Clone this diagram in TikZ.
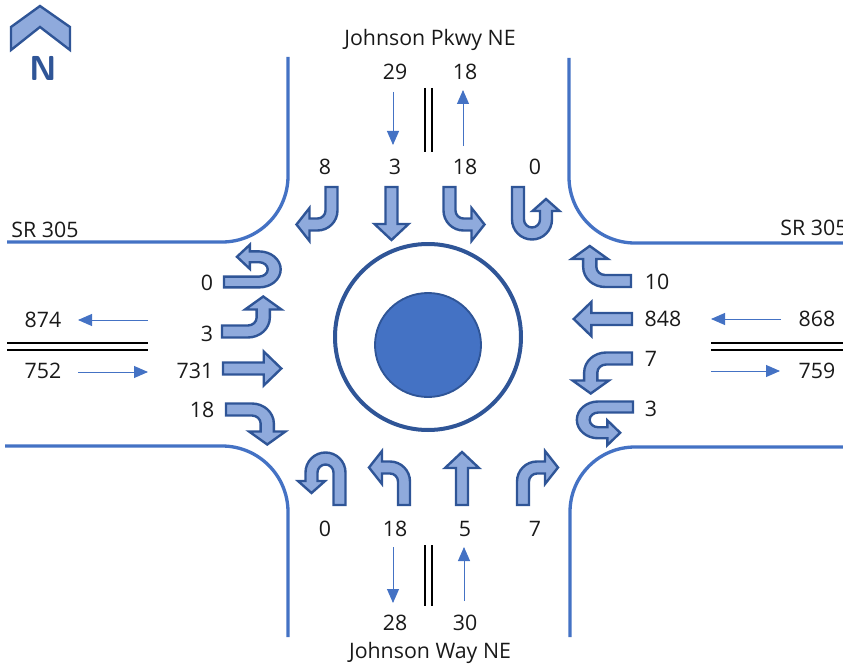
\documentclass[tikz,border=0pt]{standalone}
\usepackage{fontspec}
\setmainfont{Open Sans}
\usepackage{tikz}
\usetikzlibrary{arrows.meta}
\usepackage{xcolor}
\definecolor{roadblue}{HTML}{4472C4}
\definecolor{darkblue}{HTML}{2F5597}
\definecolor{lightblue}{HTML}{8FAADC}

\begin{document}
\begin{tikzpicture}[
    x=0.75pt, y=-0.75pt,
    road/.style={draw=roadblue, line width=2.5pt},
    median/.style={draw=black, line width=1pt},
    flow/.style={draw=roadblue, line width=0.7pt, -{Triangle[length=10.5pt,width=9pt]}},
    turn/.style={draw=darkblue, fill=lightblue, line width=1.8pt, line join=miter},
    count/.style={font=\fontsize{16}{18}\selectfont, text=black!90, inner sep=0pt},
    thruarrow/.pic={
      \path[turn] (-6,0) -- (-6,-37) -- (-17,-37) -- (0,-53) -- (17,-37) -- (6,-37) -- (6,0) -- cycle;
    },
    bendarrow/.pic={
      \path[turn] (-6,0) -- (-6,-23.5) arc (180:270:20) -- (22,-43.5) -- (22,-54) -- (35,-37.5)
        -- (22,-21) -- (22,-31.5) -- (14,-31.5) arc (270:180:8) -- (6,0) -- cycle;
    },
    uarrow/.pic={
      \path[turn] (6,0) -- (6,-32.5) arc (360:180:20) -- (-34,-24) -- (-41.5,-24) -- (-28,-12)
        -- (-14.5,-24) -- (-22,-24) -- (-22,-32.5) arc (180:360:8) -- (-6,0) -- cycle;
    }
]
  \useasboundingbox (0,0) rectangle (843,667);

  % North marker
  \path[turn] (40,6) -- (70,27) -- (70,50) -- (40,27) -- (11,50) -- (11,27) -- cycle;
  \node[font=\sffamily\bfseries\fontsize{26}{26}\selectfont, text=darkblue, inner sep=0pt] (north) at (43,68) {N};

  % Road edges
  \draw[road] (288,57) -- (288,176) arc (0:90:66) -- (7,242);
  \draw[road] (569,58) -- (569,177) arc (180:90:66) -- (843,243);
  \draw[road] (5,446) -- (222,446) arc (270:360:66) -- (288,637);
  \draw[road] (843,447) -- (635,447) arc (270:180:65) -- (570,637);

  % Roundabout
  \draw[draw=darkblue, line width=3pt] (428,337) ellipse (93 and 93);
  \draw[draw=darkblue, fill=roadblue, line width=1.4pt] (428,345) ellipse (53 and 52);

  % Medians
  \draw[median] (425,88) -- (425,152);
  \draw[median] (432,88) -- (432,152);
  \draw[median] (425,545) -- (425,606);
  \draw[median] (432,545) -- (432,606);
  \draw[median] (7,343) -- (148,343);
  \draw[median] (7,350) -- (148,350);
  \draw[median] (711,343) -- (843,343);
  \draw[median] (711,350) -- (843,350);

  % Northern approach
  \pic[rotate=180] at (331.5,187) {bendarrow};
  \pic[rotate=180] at (391.5,187) {thruarrow};
  \pic[rotate=180,xscale=-1] at (449.5,187) {bendarrow};
  \pic[rotate=180] at (518,187) {uarrow};

  % Southern approach
  \pic at (339.5,505) {uarrow};
  \pic[xscale=-1] at (404,505) {bendarrow};
  \pic at (462,505) {thruarrow};
  \pic at (523,505) {bendarrow};

  % Western approach
  \pic[rotate=-90,xscale=0.9,yscale=1.08] at (224,282) {uarrow};
  \pic[rotate=-90,xscale=-1,yscale=1.1] at (222,331.5) {bendarrow};
  \pic[rotate=-90,yscale=1.1] at (223,368.5) {thruarrow};
  \pic[rotate=-90,yscale=1.1] at (226,409.5) {bendarrow};

  % Eastern approach
  \pic[rotate=90,yscale=1.1] at (631,281) {bendarrow};
  \pic[rotate=90,yscale=1.1] at (632,319) {thruarrow};
  \pic[rotate=90,xscale=-1,yscale=1.1] at (632,358.5) {bendarrow};
  \pic[rotate=90,xscale=0.92,yscale=1.07] at (633,407) {uarrow};

  % Volume arrows
  \coordinate (na) at (393,92);
  \coordinate (nb) at (393,145);
  \coordinate (nc) at (463,146);
  \coordinate (nd) at (463,90);
  \coordinate (sa) at (393,547);
  \coordinate (sb) at (393,603);
  \coordinate (sc) at (464,601);
  \coordinate (sd) at (464,547);
  \coordinate (wa) at (148,320);
  \coordinate (wb) at (78,320);
  \coordinate (wc) at (78,372);
  \coordinate (wd) at (148,372);
  \coordinate (ea) at (781,319);
  \coordinate (eb) at (711,319);
  \coordinate (ec) at (711,371);
  \coordinate (ed) at (780,371);
  \draw[flow] (na) -- (nb);
  \draw[flow] (nc) -- (nd);
  \draw[flow] (sa) -- (sb);
  \draw[flow] (sc) -- (sd);
  \draw[flow] (wa) -- (wb);
  \draw[flow] (wc) -- (wd);
  \draw[flow] (ea) -- (eb);
  \draw[flow] (ec) -- (ed);

  % Road names
  \node[count] (pkwy) at (430,40) {Johnson Pkwy NE};
  \node[count] (way) at (430,653) {Johnson Way NE};
  \node[count] (srw) at (45,230) {SR 305};
  \node[count] (sre) at (814,228) {SR 305};

  % North counts
  \node[count] (n29) at (395,72) {29};
  \node[count] (n18) at (465,72) {18};
  \node[count] (nl) at (325,167) {8};
  \node[count] (nt) at (395,167) {3};
  \node[count] (nr) at (465,167) {18};
  \node[count] (nu) at (535,167) {0};

  % South counts
  \node[count] (su) at (325,529) {0};
  \node[count] (sl) at (395,529) {18};
  \node[count] (st) at (465,529) {5};
  \node[count] (sr) at (535,529) {7};
  \node[count] (s28) at (395,623) {28};
  \node[count] (s30) at (465,623) {30};

  % West counts
  \node[count] (w874) at (43,320) {874};
  \node[count] (w752) at (43,371) {752};
  \node[count] (wu) at (207,283) {0};
  \node[count] (wl) at (207,334) {3};
  \node[count] (wt) at (195,371) {731};
  \node[count] (wr) at (202,410) {18};

  % East counts
  \node[count] (e868) at (817,319) {868};
  \node[count] (e759) at (817,371) {759};
  \node[count] (er) at (657,282) {10};
  \node[count] (et) at (663,319) {848};
  \node[count] (el) at (651,359) {7};
  \node[count] (eu) at (651,409) {3};
\end{tikzpicture}
\end{document}
